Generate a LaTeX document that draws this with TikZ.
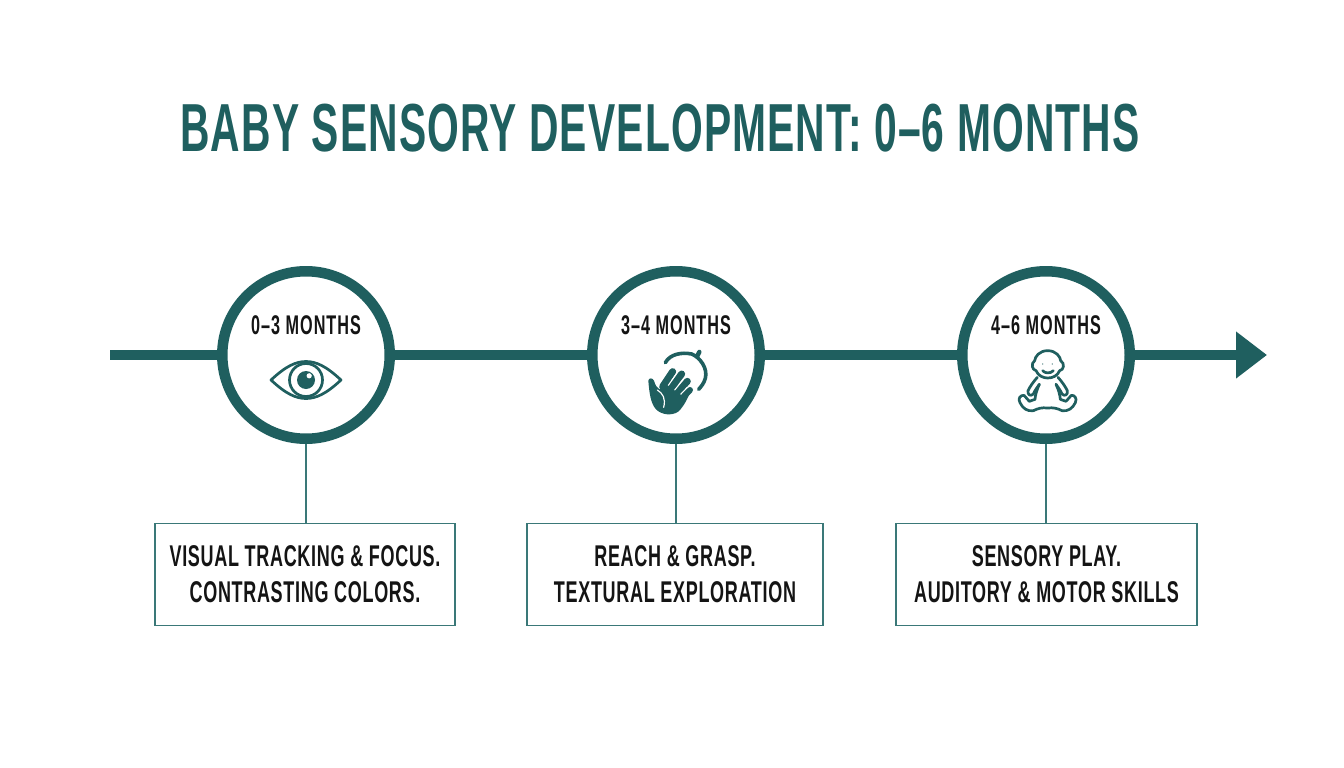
\documentclass[tikz,border=0pt]{standalone}
\usepackage{fontspec}
\setmainfont{Liberation Sans}[FakeStretch=0.6]
\usetikzlibrary{arrows.meta}
\definecolor{tealdark}{HTML}{1F5F5F}
\definecolor{teallight}{HTML}{3A7878}
\definecolor{inkblack}{HTML}{141414}
\tikzset{
  agecircle/.style={circle,draw=tealdark,line width=10.5pt,fill=white,minimum size=167.5pt,inner sep=0pt},
  agelabel/.style={text=inkblack,font=\bfseries\fontsize{27}{27}\selectfont\addfontfeature{LetterSpace=3.7},inner sep=0pt},
  infobox/.style={rectangle,draw=teallight,line width=1.6pt,fill=white,minimum height=102pt,inner sep=0pt,
    align=center,text=inkblack,font=\bfseries\fontsize{30}{36}\selectfont\addfontfeature{LetterSpace=2.3}},
  axisline/.style={draw=tealdark,line width=10pt},
  stemline/.style={draw=teallight,line width=1.6pt},
  iconline/.style={draw=tealdark,line width=2.7pt,line cap=round,line join=round},
}
\begin{document}
\begin{tikzpicture}[x=1pt,y=-1pt]
\useasboundingbox (0,0) rectangle (1344,768);
\node[text=tealdark,font=\bfseries\fontsize{68}{68}\selectfont\addfontfeature{LetterSpace=1.7},inner sep=0pt] (title) at (660,128) {BABY SENSORY DEVELOPMENT: 0–6 MONTHS};
% timeline
\node[agecircle] (first) at (306,355) {};
\node[agecircle] (second) at (676,355) {};
\node[agecircle] (third) at (1046,355) {};
\coordinate (start) at (110,355);
\coordinate (end) at (1267,355);
\draw[axisline] (start) -- (first);
\draw[axisline] (first) -- (second);
\draw[axisline] (second) -- (third);
\draw[axisline,-{Triangle[length=31pt,width=45pt]}] (third) -- (end);
\node[agelabel] (firstlabel) at (306,325) {0–3 MONTHS};
\node[agelabel] (secondlabel) at (676,325) {3–4 MONTHS};
\node[agelabel] (thirdlabel) at (1046,325) {4–6 MONTHS};
% boxes
\node[infobox,minimum width=300pt] (firstbox) at (305,574.5) {VISUAL TRACKING \& FOCUS.\\CONTRASTING COLORS.};
\node[infobox,minimum width=296pt] (secondbox) at (675,574.5) {REACH \& GRASP.\\TEXTURAL EXPLORATION};
\node[infobox,minimum width=301pt] (thirdbox) at (1046.5,574.5) {SENSORY PLAY.\\AUDITORY \& MOTOR SKILLS};
\draw[stemline] (first) -- (first|-firstbox.north);
\draw[stemline] (second) -- (second|-secondbox.north);
\draw[stemline] (third) -- (third|-thirdbox.north);
% eye
\begin{scope}[shift={(306,380)}]
\draw[iconline] (-35,0) .. controls (-20,-14) and (-10,-18.5) .. (0,-18.5) .. controls (10,-18.5) and (20,-14) .. (35,0)
  .. controls (20,14) and (10,18.5) .. (0,18.5) .. controls (-10,18.5) and (-20,14) .. (-35,0) -- cycle;
\draw[iconline] (0,0) circle (16.5);
\fill[tealdark] (0,0) circle (9);
\fill[white] (3.2,-4.2) circle (2.6);
\end{scope}
% hand
\begin{scope}[shift={(620,340)},scale=1/3]
\draw[iconline,line width=3.6pt] (136,68) .. controls (150,42) and (185,36) .. (215,42) .. controls (240,52) and (264,85) .. (256,115) .. controls (252,130) and (243,140) .. (236,148);
\draw[iconline,line width=4.5pt] (232,48) -- (238,36);
\fill[tealdark] (85,122) .. controls (86,113) and (98,113) .. (102,122) .. controls (106,135) and (110,143) .. (118,148)
  -- (150,120) -- (205,150) -- (214,148) .. controls (205,170) and (195,195) .. (175,215)
  .. controls (155,228) and (125,225) .. (108,208) .. controls (92,190) and (88,160) .. (85,122) -- cycle;
\draw[tealdark,line width=7pt,line cap=round] (128,140) -- (158,95);
\draw[tealdark,line width=7pt,line cap=round] (150,148) -- (185,102);
\draw[tealdark,line width=7pt,line cap=round] (170,158) -- (202,124);
\draw[tealdark,line width=6pt,line cap=round] (190,170) -- (210,150);
\draw[white,line width=1.2pt,line cap=round] (112,150) .. controls (128,160) and (138,175) .. (131,202);
\draw[white,line width=1.1pt,line cap=round] (145,136) -- (168,103);
\draw[white,line width=1.1pt,line cap=round] (164,150) -- (191,117);
\draw[white,line width=1.1pt,line cap=round] (182,163) -- (202,142);
\end{scope}
% baby
\begin{scope}[shift={(1000,340)},scale=1/3]
\draw[iconline] (143,32) .. controls (118,32) and (105,50) .. (104,62) .. controls (92,70) and (96,90) .. (108,92)
  .. controls (115,108) and (130,114) .. (143,114) .. controls (158,114) and (172,108) .. (179,92)
  .. controls (192,90) and (195,70) .. (182,62) .. controls (181,50) and (168,32) .. (143,32) -- cycle;
\draw[iconline] (112,112) .. controls (100,125) and (90,140) .. (84,152) .. controls (82,165) and (92,170) .. (100,162) .. controls (105,150) and (112,142) .. (118,133);
\draw[iconline] (174,112) .. controls (186,125) and (196,140) .. (202,152) .. controls (204,165) and (194,170) .. (186,162) .. controls (181,150) and (174,142) .. (168,133);
\draw[iconline] (118,133) .. controls (110,150) and (106,165) .. (105,178) -- (88,184) -- (72,166) .. controls (62,165) and (52,175) .. (60,188) .. controls (68,205) and (82,215) .. (100,212) .. controls (115,205) and (125,202) .. (143,204)
  .. controls (160,202) and (172,205) .. (186,212) .. controls (204,215) and (218,205) .. (226,188) .. controls (232,175) and (224,165) .. (214,166) -- (198,184) -- (181,178) .. controls (180,165) and (176,150) .. (168,133);
\fill[tealdark] (128,72) circle (1.8);
\fill[tealdark] (157,72) circle (1.8);
\draw[iconline] (128,92) .. controls (135,101) and (152,101) .. (160,92);
\end{scope}
\end{tikzpicture}
\end{document}
